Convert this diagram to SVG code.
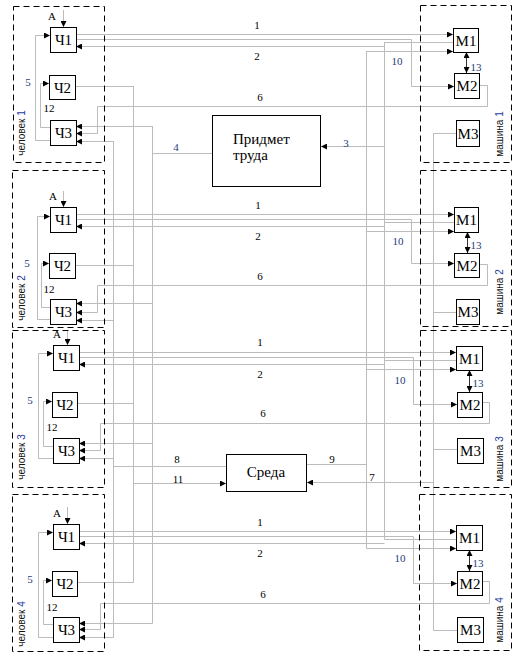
<svg xmlns="http://www.w3.org/2000/svg" width="527" height="671" viewBox="0 0 527 671">
<defs>
<marker id="ah" viewBox="0 0 6 6" markerWidth="6" markerHeight="6" refX="6" refY="3" orient="auto" markerUnits="userSpaceOnUse"><path d="M0,0 L6,3 L0,6 z" fill="#000"/></marker>
<marker id="as" viewBox="0 0 6 6" markerWidth="6" markerHeight="6" refX="0" refY="3" orient="auto" markerUnits="userSpaceOnUse"><path d="M6,0 L0,3 L6,6 z" fill="#000"/></marker>
</defs>
<style>
.grp{fill:none;stroke:#000;stroke-width:1;stroke-dasharray:6,4}
.bx{fill:#fff;stroke:#000;stroke-width:1}
.bt{font-family:"Liberation Serif",serif;font-size:15px;fill:#000;text-anchor:middle}
.c{fill:none;stroke:#bcbcbc;stroke-width:1}
.ca{fill:none;stroke:#bcbcbc;stroke-width:1;marker-end:url(#ah)}
.dbl{fill:none;stroke:#333;stroke-width:1;marker-end:url(#ah);marker-start:url(#as)}
.n{font-family:"Liberation Serif",serif;font-size:11px;fill:#000;text-anchor:middle}
.nb{font-family:"Liberation Serif",serif;font-size:11px;fill:#1f3a7a;text-anchor:middle}
.rl{font-family:"Liberation Sans",sans-serif;font-size:10px;fill:#111;text-anchor:middle}
.rn{fill:#1f3aa0}
</style>

<g id="connectors">
<!-- buses -->
<path class="c" d="M113.5,141 V637.5"/>
<path class="c" d="M133.5,86 V582.5"/>
<path class="c" d="M152.5,126 V623.5"/>
<path class="c" d="M366.5,51 V548.5"/>
<path class="c" d="M384.5,42 V539.5"/>
<path class="c" d="M433.5,133 V630.5"/>
<!-- predmet / sreda -->
<path class="c" d="M212,153.5 H152.5"/>
<path class="ca" d="M384.5,146.5 H321"/>
<path class="c" d="M113.5,466.5 H226"/>
<path class="ca" d="M133.5,483.5 H226"/>
<path class="c" d="M307,464.5 H366.5"/>
<path class="ca" d="M433.5,482.5 H307"/>

<!-- row 1 -->
<path class="ca" d="M63.5,10 V27"/>
<path class="ca" d="M76,34.5 H453"/>
<path class="ca" d="M76,39.5 H411.5 V86.5 H454"/>
<path class="c" d="M453,42.5 H384.5"/>
<path class="ca" d="M384.5,46.5 H76"/>
<path class="ca" d="M366.5,51.5 H453"/>
<path class="dbl" d="M466.5,52 V73"/>
<path class="ca" d="M479,85.5 H487.5 V106.5 H97.5 V133.5 H76"/>
<path class="c" d="M456,133.5 H433.5"/>
<path class="ca" d="M152.5,126.5 H76"/>
<path class="ca" d="M113.5,141.5 H76"/>
<path class="c" d="M75,86.5 H133.5"/>
<path class="ca" d="M50,140.5 H35.5 V35.5 H50"/>
<path class="ca" d="M50,127.5 H40.5 V83.5 H49"/>

<!-- row 2 -->
<path class="ca" d="M63.5,191 V207"/>
<path class="ca" d="M76,214.5 H454"/>
<path class="ca" d="M76,219.5 H411.5 V263.5 H454"/>
<path class="c" d="M454,222.5 H384.5"/>
<path class="ca" d="M384.5,226.5 H76"/>
<path class="ca" d="M366.5,231.5 H454"/>
<path class="dbl" d="M467.5,232 V253"/>
<path class="ca" d="M479,264.5 H487.5 V285.5 H97.5 V312.5 H76"/>
<path class="c" d="M456,312.5 H433.5"/>
<path class="ca" d="M152.5,303.5 H76"/>
<path class="ca" d="M113.5,320.5 H76"/>
<path class="c" d="M75,265.5 H133.5"/>
<path class="ca" d="M50,319.5 H37.5 V216.5 H50"/>
<path class="ca" d="M50,307.5 H41.5 V263.5 H49"/>

<!-- row 3 -->
<path class="ca" d="M67.5,331 V345"/>
<path class="ca" d="M79,352.5 H456"/>
<path class="ca" d="M79,357.5 H413.5 V404.5 H457"/>
<path class="c" d="M456,360.5 H384.5"/>
<path class="ca" d="M384.5,364.5 H79"/>
<path class="ca" d="M366.5,369.5 H456"/>
<path class="dbl" d="M469.5,370 V392"/>
<path class="ca" d="M482,402.5 H489.5 V423.5 H100.5 V450.5 H79"/>
<path class="c" d="M457,449.5 H433.5"/>
<path class="ca" d="M152.5,443.5 H79"/>
<path class="ca" d="M113.5,458.5 H79"/>
<path class="c" d="M77,403.5 H133.5"/>
<path class="ca" d="M53,458.5 H38.5 V353.5 H53"/>
<path class="ca" d="M53,446.5 H43.5 V401.5 H52"/>

<!-- row 4 -->
<path class="ca" d="M67.5,507 V524"/>
<path class="ca" d="M79,531.5 H456"/>
<path class="ca" d="M79,536.5 H413.5 V583.5 H457"/>
<path class="c" d="M456,539.5 H384.5"/>
<path class="ca" d="M384.5,543.5 H79"/>
<path class="ca" d="M366.5,548.5 H456"/>
<path class="dbl" d="M469.5,550 V571"/>
<path class="ca" d="M482,581.5 H489.5 V603.5 H100.5 V629.5 H79"/>
<path class="c" d="M457,630.5 H433.5"/>
<path class="ca" d="M152.5,623.5 H79"/>
<path class="ca" d="M113.5,637.5 H79"/>
<path class="c" d="M77,582.5 H133.5"/>
<path class="ca" d="M53,637.5 H38.5 V532.5 H53"/>
<path class="ca" d="M53,624.5 H43.5 V580.5 H52"/>
</g>

<g id="labels">
<text class="n" x="257" y="29">1</text>
<text class="n" x="257" y="60">2</text>
<text class="n" x="260" y="101">6</text>
<text class="n" x="258" y="209">1</text>
<text class="n" x="258" y="240">2</text>
<text class="n" x="260" y="280">6</text>
<text class="n" x="260" y="346">1</text>
<text class="n" x="260" y="378">2</text>
<text class="n" x="263" y="417">6</text>
<text class="n" x="260" y="526">1</text>
<text class="n" x="260" y="557">2</text>
<text class="n" x="263" y="598">6</text>
<text class="nb" x="397" y="65">10</text>
<text class="nb" x="398" y="245">10</text>
<text class="nb" x="400" y="384">10</text>
<text class="nb" x="400" y="562">10</text>
<text class="nb" x="476" y="71">13</text>
<text class="nb" x="476" y="249">13</text>
<text class="nb" x="478" y="387">13</text>
<text class="nb" x="478" y="567">13</text>
<text class="nb" x="28" y="86">5</text>
<text class="nb" x="27" y="267">5</text>
<text class="nb" x="30" y="404">5</text>
<text class="nb" x="30" y="583">5</text>
<text class="n" x="49" y="112">12</text>
<text class="n" x="49" y="293">12</text>
<text class="n" x="52" y="431">12</text>
<text class="n" x="52" y="611">12</text>
<text class="n" x="52" y="20">А</text>
<text class="n" x="53" y="200">А</text>
<text class="n" x="57" y="338">А</text>
<text class="n" x="57" y="517">А</text>
<text class="nb" x="176" y="151">4</text>
<text class="nb" x="346" y="147">3</text>
<text class="n" x="177" y="463">8</text>
<text class="n" x="178" y="483">11</text>
<text class="n" x="332" y="463">9</text>
<text class="n" x="372" y="481">7</text>
</g>

<g id="chelovek1">
<rect class="grp" x="13.5" y="6.5" width="91" height="156"/>
<text class="rl" transform="translate(25,133) rotate(-90)">человек <tspan class="rn">1</tspan></text>
</g>
<g id="chelovek2">
<rect class="grp" x="12.5" y="170.5" width="92" height="157"/>
<text class="rl" transform="translate(25,298) rotate(-90)">человек <tspan class="rn">2</tspan></text>
</g>
<g id="chelovek3">
<rect class="grp" x="12.5" y="330.5" width="92" height="157"/>
<text class="rl" transform="translate(25,457) rotate(-90)">человек <tspan class="rn">3</tspan></text>
</g>
<g id="chelovek4">
<rect class="grp" x="12.5" y="494.5" width="92" height="157"/>
<text class="rl" transform="translate(25,624) rotate(-90)">человек <tspan class="rn">4</tspan></text>
</g>

<g id="mashina1">
<rect class="grp" x="420.5" y="5.5" width="91" height="157"/>
<text class="rl" transform="translate(503,134) rotate(-90)">машина <tspan class="rn">1</tspan></text>
</g>
<g id="mashina2">
<rect class="grp" x="420.5" y="170.5" width="91" height="156"/>
<text class="rl" transform="translate(503,292) rotate(-90)">машина <tspan class="rn">2</tspan></text>
</g>
<g id="mashina3">
<rect class="grp" x="420.5" y="330.5" width="91" height="157"/>
<text class="rl" transform="translate(503,459) rotate(-90)">машина <tspan class="rn">3</tspan></text>
</g>
<g id="mashina4">
<rect class="grp" x="419.5" y="494.5" width="92" height="156"/>
<text class="rl" transform="translate(503,620) rotate(-90)">машина <tspan class="rn">4</tspan></text>
</g>

<g id="ch1-1"><rect class="bx" x="50.5" y="27.5" width="26" height="25"/><text class="bt" x="63.5" y="45">Ч1</text></g>
<g id="ch2-1"><rect class="bx" x="49.5" y="75.5" width="26" height="24"/><text class="bt" x="62.5" y="93">Ч2</text></g>
<g id="ch3-1"><rect class="bx" x="50.5" y="120.5" width="26" height="25"/><text class="bt" x="63.5" y="138">Ч3</text></g>
<g id="ch1-2"><rect class="bx" x="50.5" y="207.5" width="26" height="25"/><text class="bt" x="63.5" y="225">Ч1</text></g>
<g id="ch2-2"><rect class="bx" x="49.5" y="253.5" width="26" height="25"/><text class="bt" x="62.5" y="271">Ч2</text></g>
<g id="ch3-2"><rect class="bx" x="50.5" y="299.5" width="26" height="25"/><text class="bt" x="63.5" y="317">Ч3</text></g>
<g id="ch1-3"><rect class="bx" x="53.5" y="345.5" width="26" height="25"/><text class="bt" x="66.5" y="363">Ч1</text></g>
<g id="ch2-3"><rect class="bx" x="52.5" y="392.5" width="25" height="25"/><text class="bt" x="65" y="410">Ч2</text></g>
<g id="ch3-3"><rect class="bx" x="53.5" y="438.5" width="26" height="25"/><text class="bt" x="66.5" y="456">Ч3</text></g>
<g id="ch1-4"><rect class="bx" x="53.5" y="524.5" width="26" height="25"/><text class="bt" x="66.5" y="542">Ч1</text></g>
<g id="ch2-4"><rect class="bx" x="52.5" y="571.5" width="25" height="25"/><text class="bt" x="65" y="589">Ч2</text></g>
<g id="ch3-4"><rect class="bx" x="53.5" y="617.5" width="26" height="25"/><text class="bt" x="66.5" y="635">Ч3</text></g>

<g id="m1-1"><rect class="bx" x="453.5" y="28.5" width="25" height="24"/><text class="bt" x="466" y="46">M1</text></g>
<g id="m2-1"><rect class="bx" x="454.5" y="73.5" width="25" height="25"/><text class="bt" x="467" y="91">M2</text></g>
<g id="m3-1"><rect class="bx" x="456.5" y="120.5" width="23" height="26"/><text class="bt" x="468" y="139">M3</text></g>
<g id="m1-2"><rect class="bx" x="454.5" y="207.5" width="24" height="25"/><text class="bt" x="466.5" y="225">M1</text></g>
<g id="m2-2"><rect class="bx" x="454.5" y="253.5" width="25" height="24"/><text class="bt" x="467" y="271">M2</text></g>
<g id="m3-2"><rect class="bx" x="456.5" y="299.5" width="23" height="25"/><text class="bt" x="468" y="317">M3</text></g>
<g id="m1-3"><rect class="bx" x="456.5" y="346.5" width="26" height="24"/><text class="bt" x="469.5" y="364">M1</text></g>
<g id="m2-3"><rect class="bx" x="457.5" y="392.5" width="25" height="25"/><text class="bt" x="470" y="410">M2</text></g>
<g id="m3-3"><rect class="bx" x="457.5" y="438.5" width="26" height="25"/><text class="bt" x="470.5" y="456">M3</text></g>
<g id="m1-4"><rect class="bx" x="456.5" y="525.5" width="26" height="25"/><text class="bt" x="469.5" y="543">M1</text></g>
<g id="m2-4"><rect class="bx" x="457.5" y="571.5" width="25" height="24"/><text class="bt" x="470" y="589">M2</text></g>
<g id="m3-4"><rect class="bx" x="457.5" y="617.5" width="26" height="25"/><text class="bt" x="470.5" y="635">M3</text></g>

<g id="predmet"><rect class="bx" x="212.5" y="115.5" width="108" height="71"/><text font-family="Liberation Serif, serif" font-size="15" x="233" y="144">Придмет</text><text font-family="Liberation Serif, serif" font-size="15" x="233" y="160">труда</text></g>
<g id="sreda"><rect class="bx" x="226.5" y="454.5" width="80" height="37"/><text class="bt" x="266" y="477">Среда</text></g>
</svg>
